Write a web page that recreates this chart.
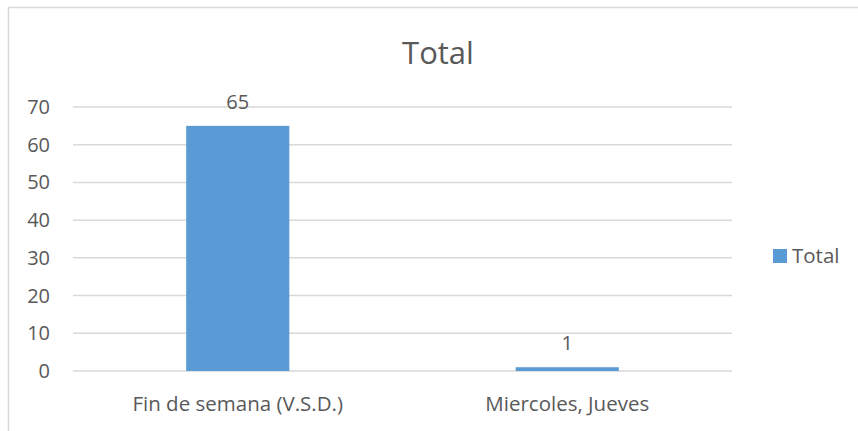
<!DOCTYPE html>
<html>
<head>
<meta charset="utf-8">
<script src="https://cdn.jsdelivr.net/npm/d3@7"></script>
<style>
  body { margin: 0; background: #fff; }
  text { font-family: "Open Sans", "Liberation Sans", sans-serif; fill: #595959; }
</style>
</head>
<body>
<div id="chart"></div>
<script>
var width = 858;
var height = 431;

var categories = ["Fin de semana (V.S.D.)", "Miercoles, Jueves"];
var values = [65, 1];
var yTicks = [0, 10, 20, 30, 40, 50, 60, 70];
var seriesName = "Total";

var svg = d3
  .select("#chart")
  .append("svg")
  .attr("width", width)
  .attr("height", height);

// chart frame
svg
  .append("rect")
  .attr("x", 8.5)
  .attr("y", 7.5)
  .attr("width", width + 10)
  .attr("height", height + 10)
  .attr("fill", "none")
  .attr("stroke", "#d9d9d9")
  .attr("stroke-width", 1.5);

var x = d3
  .scaleBand()
  .domain(categories)
  .range([73, 732])
  .paddingInner(0.687)
  .paddingOuter(0.3435);

var y = d3
  .scaleLinear()
  .domain([0, 70])
  .range([371, 107]);

// gridlines
svg
  .selectAll(".grid")
  .data(yTicks)
  .enter()
  .append("line")
  .attr("class", "grid")
  .attr("x1", 73)
  .attr("x2", 732)
  .attr("y1", function(d) { return y(d); })
  .attr("y2", function(d) { return y(d); })
  .attr("stroke", "#d9d9d9")
  .attr("stroke-width", 1.5);

// y labels
svg
  .selectAll(".ylab")
  .data(yTicks)
  .enter()
  .append("text")
  .attr("class", "ylab")
  .attr("x", 50)
  .attr("y", function(d) { return y(d) + 7; })
  .attr("text-anchor", "end")
  .style("font-size", "20px")
  .text(function(d) { return d; });

// bars
svg
  .selectAll(".bar")
  .data(values)
  .enter()
  .append("rect")
  .attr("class", "bar")
  .attr("x", function(d, i) { return x(categories[i]); })
  .attr("width", x.bandwidth())
  .attr("y", function(d) { return y(d); })
  .attr("height", function(d) { return y(0) - y(d); })
  .attr("fill", "#5b9bd5");

// data labels
svg
  .selectAll(".dlab")
  .data(values)
  .enter()
  .append("text")
  .attr("class", "dlab")
  .attr("x", function(d, i) { return x(categories[i]) + x.bandwidth() / 2; })
  .attr("y", function(d) { return y(d) - 17; })
  .attr("text-anchor", "middle")
  .style("font-size", "20px")
  .text(function(d) { return d; });

// category labels
svg
  .selectAll(".xlab")
  .data(categories)
  .enter()
  .append("text")
  .attr("class", "xlab")
  .attr("x", function(d) { return x(d) + x.bandwidth() / 2; })
  .attr("y", 411)
  .attr("text-anchor", "middle")
  .style("font-size", "20.5px")
  .text(function(d) { return d; });

// title
svg
  .append("text")
  .attr("x", 438)
  .attr("y", 64)
  .attr("text-anchor", "middle")
  .style("font-size", "31px")
  .text(seriesName);

// legend
svg
  .append("rect")
  .attr("x", 773)
  .attr("y", 249)
  .attr("width", 14)
  .attr("height", 14)
  .attr("fill", "#5b9bd5");
svg
  .append("text")
  .attr("x", 792)
  .attr("y", 263)
  .style("font-size", "20.5px")
  .text(seriesName);
</script>
</body>
</html>
